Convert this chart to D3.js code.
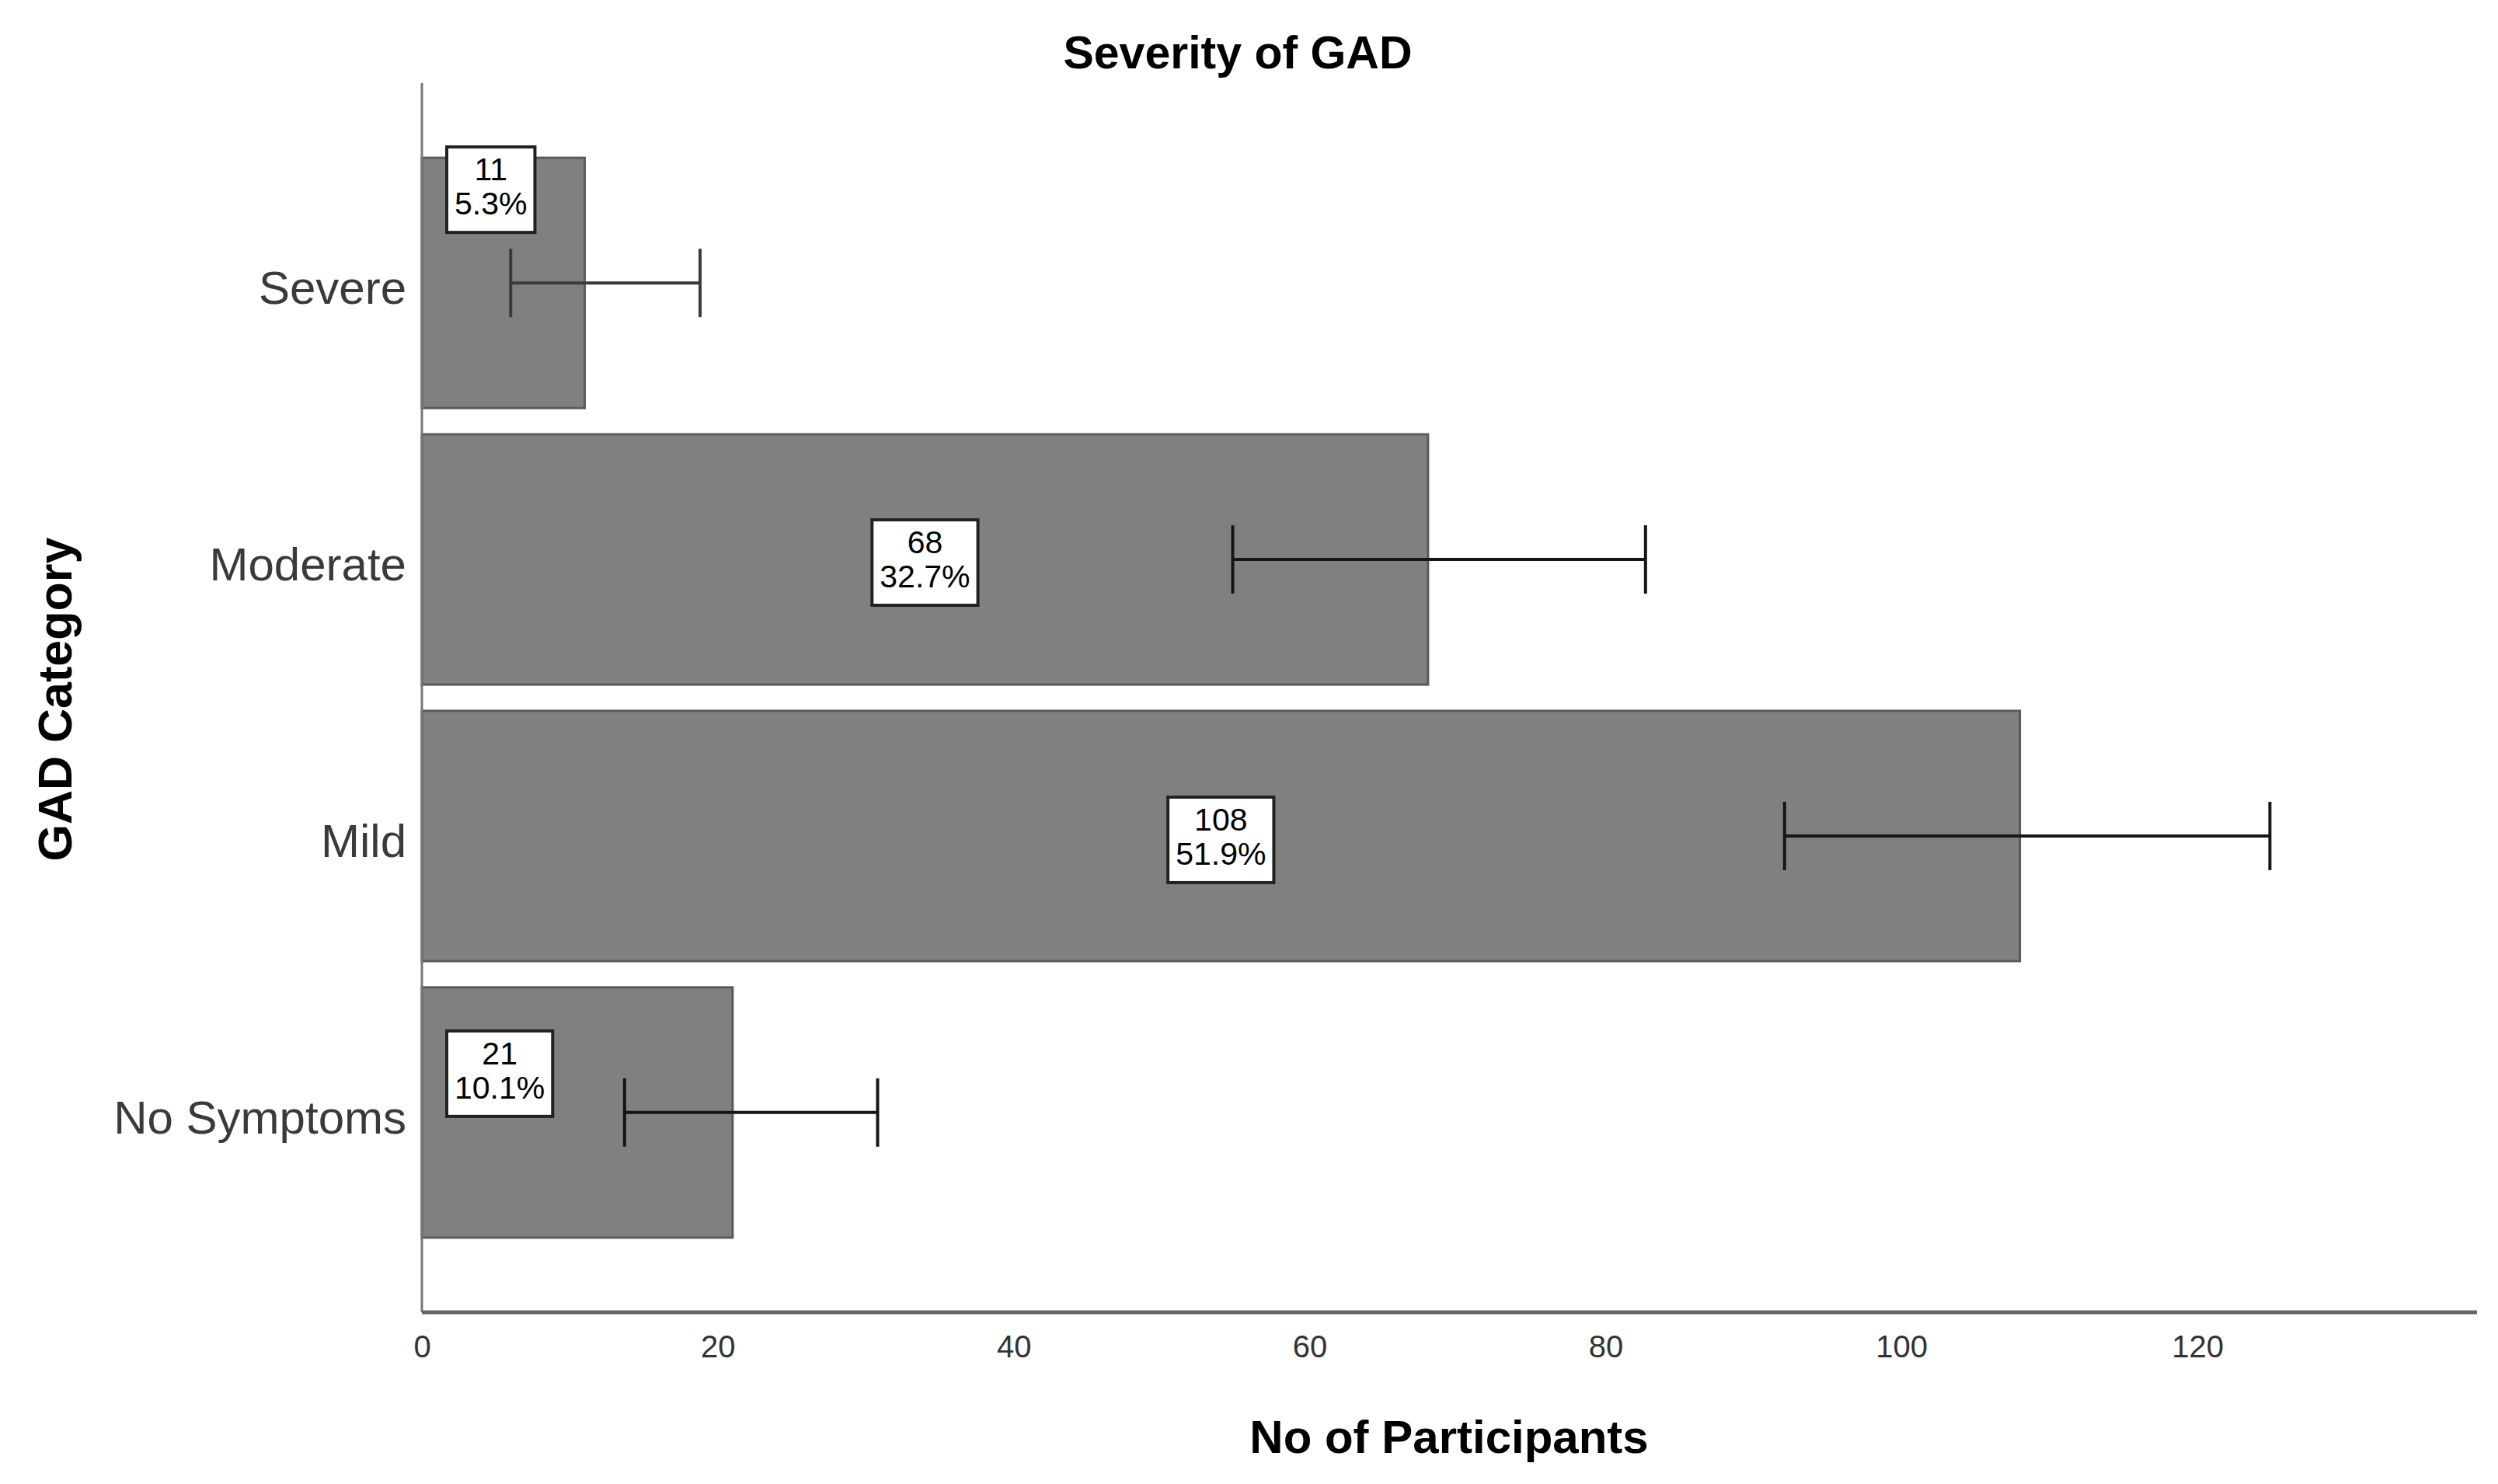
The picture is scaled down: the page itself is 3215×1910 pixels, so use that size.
<!DOCTYPE html>
<html>
<head>
<meta charset="utf-8">
<script src="https://cdn.jsdelivr.net/npm/d3@7"></script>
<style>
  body { margin: 0; background: #fff; }
  svg { display: block; font-family: "Liberation Sans", Arial, sans-serif; }
</style>
</head>
<body>
<script>
// data
var categories = ['Severe', 'Moderate', 'Mild', 'No Symptoms'];
var counts = [11, 68, 108, 21];
var percents = ['5.3%', '32.7%', '51.9%', '10.1%'];
var ciLow = [6.0, 54.8, 92.1, 13.7];
var ciHigh = [18.8, 82.7, 124.9, 30.8];
var xTicks = [0, 20, 40, 60, 80, 100, 120];

// label boxes: raised a bit on the small bars (as SPSS put them)
var labelDy = { 'Severe': -120, 'Moderate': 4, 'Mild': 5, 'No Symptoms': -50 };

var W = 3215, H = 1910;
var x0 = 543, x1 = 3188, yTop = 107, yBot = 1689;

var svg = d3.select('body').append('svg')
    .attr('width', W)
    .attr('height', H);

var x = d3.scaleLinear().domain([0, 138.9]).range([x0, x1]);
var y = d3.scaleBand().domain(categories).range([yTop, yBot])
    .paddingInner(0.095).paddingOuter(0.27);

var rows = categories.map(function (c, i) {
    return { cat: c, n: counts[i], pct: percents[i], lo: ciLow[i], hi: ciHigh[i] };
});

// bars
svg.selectAll('rect.bar').data(rows).enter().append('rect')
    .attr('class', 'bar')
    .attr('x', x(0))
    .attr('y', function (d) { return y(d.cat); })
    .attr('width', function (d) { return x(d.n) - x(0); })
    .attr('height', y.bandwidth())
    .attr('fill', '#808080')
    .attr('stroke', '#5a5a5a')
    .attr('stroke-width', 3);

// error bars
var capH = 44;
var err = svg.selectAll('g.err').data(rows).enter().append('g')
    .attr('class', 'err')
    .attr('stroke', function (d) { return d.cat === 'Severe' ? '#3a3a3a' : '#161616'; })
    .attr('stroke-width', 4);
err.append('line')
    .attr('x1', function (d) { return x(d.lo); })
    .attr('x2', function (d) { return x(d.hi); })
    .attr('y1', function (d) { return y(d.cat) + y.bandwidth() / 2; })
    .attr('y2', function (d) { return y(d.cat) + y.bandwidth() / 2; });
err.selectAll('line.cap')
    .data(function (d) { return [d.lo, d.hi].map(function (v) { return { v: v, cat: d.cat }; }); })
    .enter().append('line')
    .attr('class', 'cap')
    .attr('x1', function (d) { return x(d.v); })
    .attr('x2', function (d) { return x(d.v); })
    .attr('y1', function (d) { return y(d.cat) + y.bandwidth() / 2 - capH; })
    .attr('y2', function (d) { return y(d.cat) + y.bandwidth() / 2 + capH; });

// value labels in white boxes
var boxH = 110, labelFont = 41;
var lab = svg.selectAll('g.lab').data(rows).enter().append('g')
    .attr('class', 'lab');
lab.each(function (d) {
    var g = d3.select(this);
    var t = g.append('text')
        .attr('text-anchor', 'middle')
        .attr('font-size', labelFont)
        .attr('fill', '#000');
    t.append('tspan').attr('x', 0).attr('y', -12).text(d.n);
    t.append('tspan').attr('x', 0).attr('y', 32).text(d.pct);
    var bw = Math.max(t.node().getBBox().width + 20, 112);
    var cx = x(d.n / 2);
    // if the centred box would hit the error bar, pin it to the left of the bar
    if (cx + bw / 2 > x(d.lo) - 10) cx = x0 + 32 + bw / 2;
    var cy = y(d.cat) + y.bandwidth() / 2 + labelDy[d.cat];
    g.insert('rect', 'text')
        .attr('x', -bw / 2)
        .attr('y', -boxH / 2)
        .attr('width', bw)
        .attr('height', boxH)
        .attr('fill', '#fff')
        .attr('stroke', '#222')
        .attr('stroke-width', 4);
    g.attr('transform', 'translate(' + cx + ',' + cy + ')');
});

// axes
svg.append('line')
    .attr('x1', x0).attr('x2', x0)
    .attr('y1', yTop).attr('y2', yBot)
    .attr('stroke', '#777').attr('stroke-width', 3);
svg.append('line')
    .attr('x1', x0).attr('x2', x1)
    .attr('y1', yBot).attr('y2', yBot)
    .attr('stroke', '#666').attr('stroke-width', 5);

var xAxis = svg.append('g')
    .attr('transform', 'translate(0,' + yBot + ')')
    .call(d3.axisBottom(x).tickValues(xTicks).tickSize(0).tickPadding(30));
xAxis.select('.domain').remove();
xAxis.selectAll('text')
    .attr('font-size', 40)
    .attr('font-family', '"Liberation Sans", Arial, sans-serif')
    .attr('fill', '#333');

var yAxis = svg.append('g')
    .attr('transform', 'translate(' + x0 + ',0)')
    .call(d3.axisLeft(y).tickSize(0).tickPadding(20));
yAxis.select('.domain').remove();
yAxis.selectAll('text')
    .attr('font-size', 60)
    .attr('font-family', '"Liberation Sans", Arial, sans-serif')
    .attr('fill', '#3a3a3a')
    .attr('dy', '0.45em');

// titles
svg.append('text')
    .attr('x', 1593).attr('y', 88)
    .attr('text-anchor', 'middle')
    .attr('font-size', 59)
    .attr('font-weight', 'bold')
    .text('Severity of GAD');

svg.append('text')
    .attr('x', 1865).attr('y', 1870)
    .attr('text-anchor', 'middle')
    .attr('font-size', 60)
    .attr('font-weight', 'bold')
    .text('No of Participants');

svg.append('text')
    .attr('transform', 'translate(92,900) rotate(-90)')
    .attr('text-anchor', 'middle')
    .attr('font-size', 61)
    .attr('font-weight', 'bold')
    .text('GAD Category');
</script>
</body>
</html>
